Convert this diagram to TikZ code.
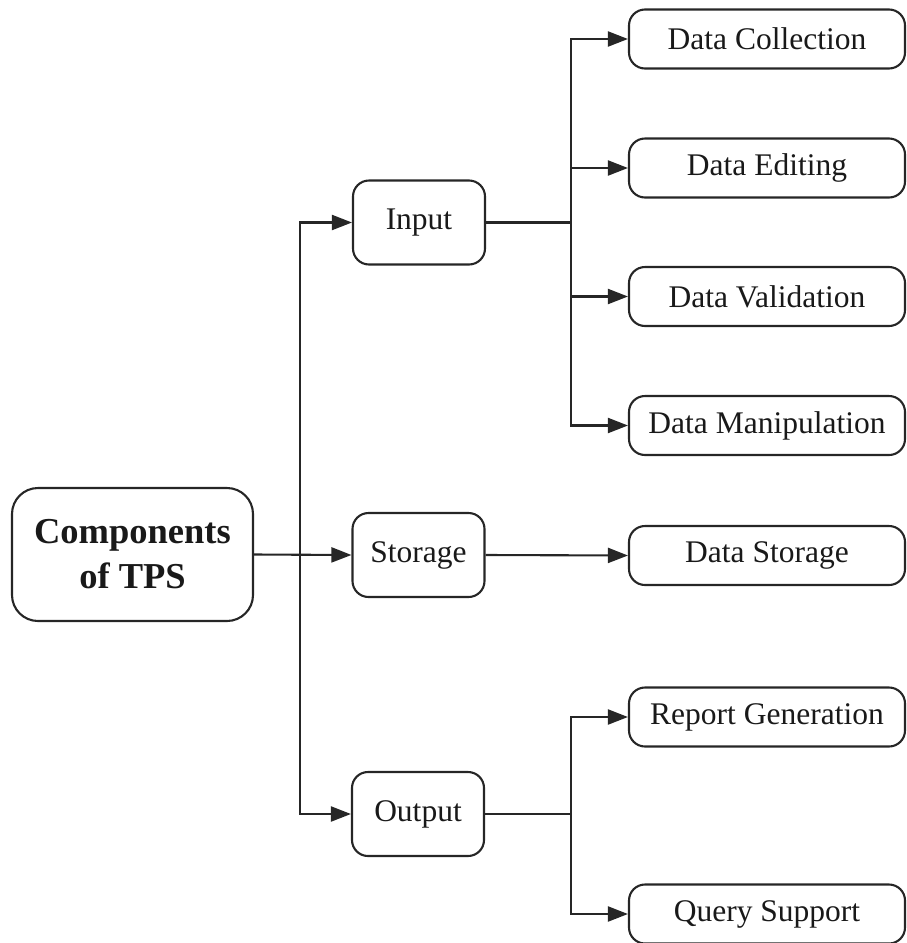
\documentclass[tikz,border=0pt]{standalone}
\usepackage{fontspec}
\setmainfont{Liberation Serif}
\usetikzlibrary{arrows.meta}
\begin{document}
\begin{tikzpicture}[x=1pt,y=-1pt,
  box/.style={draw=black!85,line width=2.1pt,rounded corners=16pt,inner sep=0pt,align=center,
    font=\fontsize{31.5}{38}\selectfont,text=black!90},
  mainbox/.style={box,rounded corners=26pt,minimum width=241pt,minimum height=133pt,
    font=\fontsize{36.5}{45}\selectfont\bfseries},
  midbox/.style={box,minimum width=132pt,minimum height=84pt},
  rbox/.style={box,minimum width=276pt,minimum height=59pt},
  conn/.style={draw=black!85,line width=2.1pt},
  arr/.style={conn,-{Triangle[length=20pt,width=15pt]}}]
\useasboundingbox (0,0) rectangle (906,943);
\node[mainbox] (main) at (132.5,554.5) {Components\\of TPS};
\node[midbox] (input) at (419,222.5) {Input};
\node[midbox] (storage) at (418.5,555) {Storage};
\node[midbox] (output) at (418,814) {Output};
\node[rbox] (dc) at (767,39) {Data Collection};
\node[rbox] (de) at (767,168) {Data Editing};
\node[rbox] (dv) at (767,296.5) {Data Validation};
\node[rbox] (dm) at (767,425.5) {Data Manipulation};
\node[rbox] (ds) at (767,555.5) {Data Storage};
\node[rbox] (rg) at (767,717) {Report Generation};
\node[rbox] (qs) at (767,914) {Query Support};
\coordinate (t) at (300,555);
\coordinate (ib) at (571,222.5);
\coordinate (ob) at (571,814);
\draw[arr] (main.east) -- (storage.west);
\draw[arr] (t) |- (input.west);
\draw[arr] (t) |- (output.west);
\draw[conn] (input.east) -- (ib);
\draw[arr] (ib) |- (dc.west);
\draw[arr] (ib) |- (de.west);
\draw[arr] (ib) |- (dv.west);
\draw[arr] (ib) |- (dm.west);
\draw[arr] (storage.east) -- (ds.west);
\draw[conn] (output.east) -- (ob);
\draw[arr] (ob) |- (rg.west);
\draw[arr] (ob) |- (qs.west);
\end{tikzpicture}
\end{document}
